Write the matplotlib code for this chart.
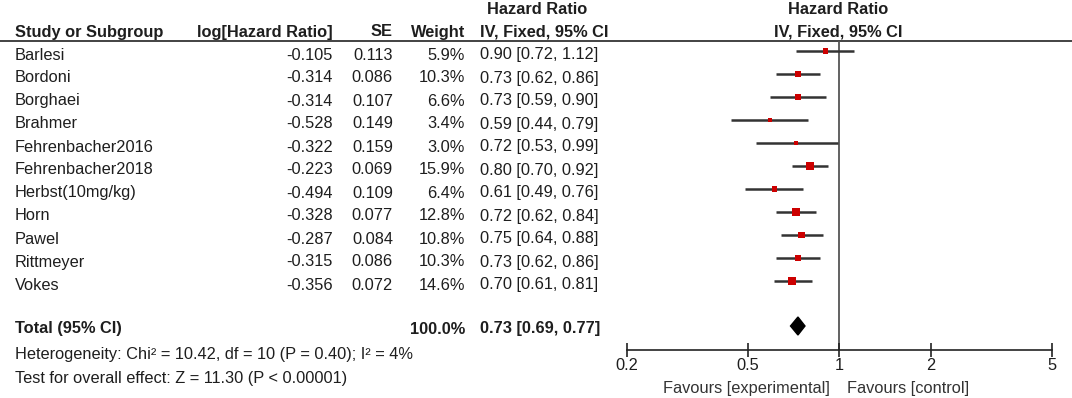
import matplotlib
matplotlib.use("Agg")
import matplotlib.pyplot as plt

plt.rcParams['font.family'] = ['Liberation Sans', 'DejaVu Sans']

# data
studies = ["Barlesi", "Bordoni", "Borghaei", "Brahmer", "Fehrenbacher2016",
           "Fehrenbacher2018", "Herbst(10mg/kg)", "Horn", "Pawel", "Rittmeyer", "Vokes"]
log_hr = [-0.105, -0.314, -0.314, -0.528, -0.322, -0.223, -0.494, -0.328, -0.287, -0.315, -0.356]
se = [0.113, 0.086, 0.107, 0.149, 0.159, 0.069, 0.109, 0.077, 0.084, 0.086, 0.072]
weight = [5.9, 10.3, 6.6, 3.4, 3.0, 15.9, 6.4, 12.8, 10.8, 10.3, 14.6]
hr = [0.90, 0.73, 0.73, 0.59, 0.72, 0.80, 0.61, 0.72, 0.75, 0.73, 0.70]
ci_lo = [0.72, 0.62, 0.59, 0.44, 0.53, 0.70, 0.49, 0.62, 0.64, 0.62, 0.61]
ci_hi = [1.12, 0.86, 0.90, 0.79, 0.99, 0.92, 0.76, 0.84, 0.88, 0.86, 0.81]

total_hr, total_lo, total_hi = 0.73, 0.69, 0.77
heterogeneity = "Heterogeneity: Chi\u00b2 = 10.42, df = 10 (P = 0.40); I\u00b2 = 4%"
overall = "Test for overall effect: Z = 11.30 (P < 0.00001)"
ticks = [0.2, 0.5, 1, 2, 5]
tick_labels = ["0.2", "0.5", "1", "2", "5"]

# layout in pixels (figure is 1072 x 398)
W, H = 1072, 398
ROW0, ROWH = 51, 23
TOTAL_Y = 326
AXIS_Y = 350
X0, X1 = 627, 1052
FS = 11.8
TXT = '#1e1e1e'

fig = plt.figure(figsize=(W / 100, H / 100), dpi=100)

# table part, pixel coordinates
tab = fig.add_axes([0, 0, 1, 1])
tab.set_xlim(0, W)
tab.set_ylim(H, 0)
tab.axis('off')

bold = dict(fontsize=FS, fontweight='bold', color=TXT, va='center')
norm = dict(fontsize=FS, color=TXT, va='center')

tab.text(537, 9, "Hazard Ratio", ha='center', **bold)
tab.text(838, 9, "Hazard Ratio", ha='center', **bold)
tab.text(15, 32, "Study or Subgroup", ha='left', **bold)
tab.text(333, 32, "log[Hazard Ratio]", ha='right', **bold)
tab.text(393, 32, "SE", ha='right', **bold)
tab.text(465, 32, "Weight", ha='right', **bold)
tab.text(544, 32, "IV, Fixed, 95% CI", ha='center', **bold)
tab.text(838, 32, "IV, Fixed, 95% CI", ha='center', **bold)
tab.hlines(40.5, 0, W, color='#222222', lw=1.2)

for i, name in enumerate(studies):
    y = ROW0 + i * ROWH + 4
    tab.text(15, y, name, ha='left', **norm)
    tab.text(333, y, f"{log_hr[i]:.3f}", ha='right', **norm)
    tab.text(393, y, f"{se[i]:.3f}", ha='right', **norm)
    tab.text(465, y, f"{weight[i]:.1f}%", ha='right', **norm)
    tab.text(480, y, f"{hr[i]:.2f} [{ci_lo[i]:.2f}, {ci_hi[i]:.2f}]", ha='left', **norm)

tab.text(15, TOTAL_Y + 3, "Total (95% CI)", ha='left', **bold)
tab.text(465, TOTAL_Y + 3, f"{sum(weight):.1f}%", ha='right', **bold)
tab.text(480, TOTAL_Y + 3, f"{total_hr:.2f} [{total_lo:.2f}, {total_hi:.2f}]", ha='left', **bold)
tab.text(15, 355, heterogeneity, ha='left', **norm)
tab.text(15, 378, overall, ha='left', **norm)

tab.text(830, 389, "Favours [experimental]", ha='right', fontsize=FS, color='#333333', va='center')
tab.text(847, 389, "Favours [control]", ha='left', fontsize=FS, color='#333333', va='center')

# forest part
ax = fig.add_axes([X0 / W, (H - AXIS_Y) / H, (X1 - X0) / W, AXIS_Y / H])
ax.patch.set_alpha(0)
ax.set_xscale('log')
ax.set_xlim(ticks[0], ticks[-1])
ax.set_ylim(AXIS_Y, 0)
for s in ['left', 'right', 'top']:
    ax.spines[s].set_visible(False)
ax.spines['bottom'].set_color('#222222')
ax.spines['bottom'].set_linewidth(1.2)
ax.set_yticks([])
ax.set_xticks(ticks)
ax.set_xticklabels(tick_labels)
ax.minorticks_off()
ax.tick_params(axis='x', direction='inout', length=10, width=1.2, color='#222222',
               labelsize=FS, labelcolor=TXT, pad=1)

ax.vlines(1, 40.5, AXIS_Y, color='#555555', lw=1.3, zorder=1)

rows = [ROW0 + i * ROWH for i in range(len(studies))]
ax.hlines(rows, ci_lo, ci_hi, color='#333333', lw=1.8, zorder=2)
ax.scatter(hr, rows, marker='s', s=[2.2 * w for w in weight], color='#cc0000',
           linewidths=0, zorder=3)

ax.fill([total_lo, total_hr, total_hi, total_hr],
        [TOTAL_Y, TOTAL_Y - 9, TOTAL_Y, TOTAL_Y + 9], color='black', zorder=3)

fig.savefig("out.png", dpi=100)
